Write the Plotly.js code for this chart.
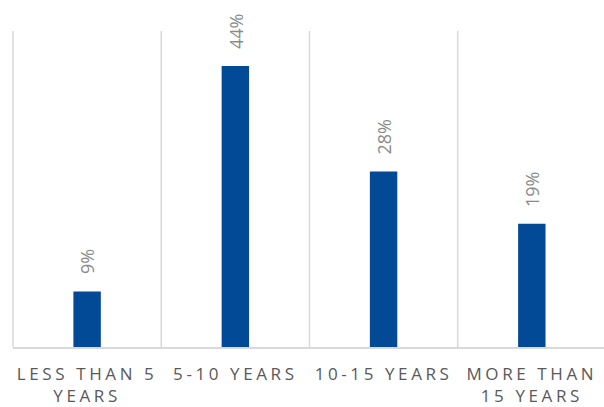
<!DOCTYPE html>
<html>
<head>
<meta charset="utf-8">
<script src="https://cdn.plot.ly/plotly-3.0.1.min.js"></script>
<style>
  html, body { margin: 0; padding: 0; background: #ffffff; }
  #chart { width: 604px; height: 407px; }
  .xtick text { letter-spacing: 3.6px; }
</style>
</head>
<body>
<div id="chart"></div>
<script>
const categories = ["LESS THAN 5<br>YEARS", "5-10 YEARS", "10-15 YEARS", "MORE THAN<br>15 YEARS"];
const shares = [8.7, 44, 27.5, 19.3];
const shareLabels = ["9%", "44%", "28%", "19%"];

const trace = {
  type: "bar",
  x: [0, 1, 2, 3],
  y: shares,
  marker: { color: "#034a96" },
  hoverinfo: "none"
};

const annotations = shares.map((v, i) => ({
  x: i, y: v, xref: "x", yref: "y",
  text: shareLabels[i],
  showarrow: false,
  textangle: -90,
  xanchor: "center",
  yanchor: "bottom",
  yshift: 15,
  font: { family: "Open Sans, sans-serif", size: 18, color: "#8a8a8a" }
}));

const layout = {
  width: 604,
  height: 407,
  margin: { l: 13, r: 0, t: 31, b: 60 },
  paper_bgcolor: "#ffffff",
  plot_bgcolor: "#ffffff",
  showlegend: false,
  bargap: 0.815,
  xaxis: {
    type: "linear",
    range: [-0.5, 3.487],
    tickmode: "array",
    tickvals: [0, 1, 2, 3],
    ticktext: categories,
    showgrid: false,
    zeroline: false,
    showline: true,
    linecolor: "#d9d9d9",
    linewidth: 1.5,
    ticks: "",
    ticklabelstandoff: 11,
    tickfont: { family: "Open Sans, sans-serif", size: 17, color: "#595959" },
    fixedrange: true
  },
  yaxis: {
    range: [0, 49.5],
    showgrid: false,
    zeroline: false,
    showline: false,
    showticklabels: false,
    ticks: "",
    fixedrange: true
  },
  shapes: [0.5, 1.5, 2.5].map(b => ({
    type: "line", xref: "x", yref: "paper",
    x0: b, x1: b, y0: 0, y1: 1,
    line: { color: "#d9d9d9", width: 1.5 },
    layer: "below"
  })).concat([{
    type: "line", xref: "paper", yref: "paper",
    x0: 0, x1: 0, y0: 0, y1: 1,
    line: { color: "#d9d9d9", width: 1.5 },
    layer: "below"
  }]),
  annotations: annotations
};

Plotly.newPlot("chart", [trace], layout, { displayModeBar: false, staticPlot: true });
</script>
</body>
</html>
